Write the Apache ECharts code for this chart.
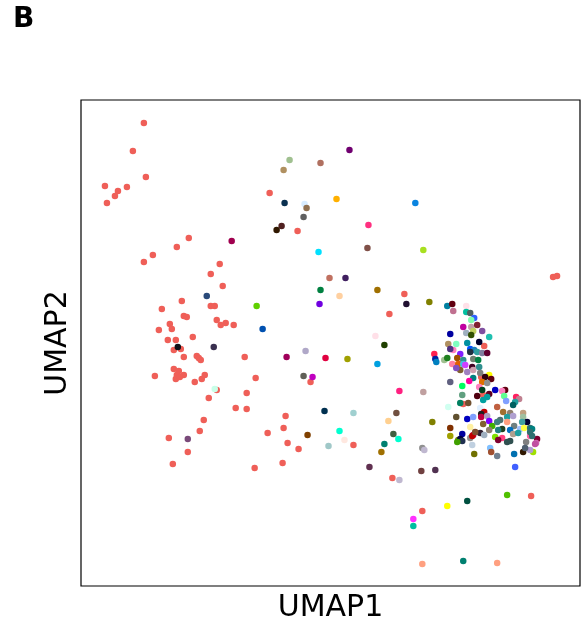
<!DOCTYPE html>
<html>
<head>
    <meta charset="UTF-8">
    <script src="https://cdn.jsdelivr.net/npm/echarts@6/dist/echarts.min.js"></script>
    <style type="text/css">
        html, body { margin: 0; padding: 0; background: #fff; }
        #chart { width: 583px; height: 634px; }
    </style>
</head>
<body>
    <div id="chart"></div>
    <script type="text/javascript">
        'use strict';
        // UMAP embedding (arbitrary units)
        var bigClusterPts = [
            [63,463],[52,435],[65,409],[24,400],[37,395],[34,390],[46,399],[26,383],
            [108,348],[96,339],[72,331],[63,324],[139,322],
            [130,312],[142,300],[101,285],[81,277],[130,280],[134,280],[103,270],[106,269],
            [89,262],[91,257],[78,256],[136,266],[145,263],[140,261],[153,261],
            [87,246],[95,246],[112,249],[93,236],[100,237],[103,229],[116,230],[118,228],[120,226],
            [164,229],[93,217],[98,215],[96,211],[103,211],[95,207],[99,209],[74,210],[124,211],
            [121,207],[114,204],[136,196],[128,188],[166,193],[155,178],[166,177],[123,166],
            [119,155],[88,148],[107,134],[92,122],
            [189,393],[217,355],[324,292],[309,272],[175,208],[230,204],[205,170],[203,158],
            [187,153],[207,143],[273,141],[218,137],[202,123],[174,118],[312,108],
            [451,90],[342,75],[473,309],[477,310],
            [404,240],[401,209],[403,191],[383,182]
        ];

        // every other cell type: position, then its own colour (same order)
        var otherPts = [
            [151,345],[126,290],[97,239],[133,239],[134,197],[107,147],[269,436],[209,426],
            [240,423],[203,416],[204,383],[224,382],[226,378],[256,387],[335,383],[223,369],
            [201,360],[196,356],[288,361],[238,334],[287,338],[343,336],[249,308],[265,308],
            [240,296],[259,290],[297,296],[176,280],[239,282],[326,282],[349,284],[182,257],
            [295,250],[304,241],[206,229],[225,235],[245,228],[267,227],[297,222],[223,210],
            [232,209],[319,195],[343,194],[244,175],[273,173],[316,173],[308,165],[227,151],
            [259,155],[313,152],[318,147],[264,146],[248,140],[304,142],[342,138],[344,136],
            [301,134],[289,119],[341,115],[319,106],[355,116],[352,164],[435,119],[427,91],
            [387,85],[367,80],[333,67],[333,60],[342,22],[383,25],[417,23],
            [367,280],[372,282],[373,275],[386,280],[386,274],[390,273],[394,268],[391,266],
            [383,259],[391,259],[397,261],[402,255],[386,253],[393,255],[391,251],[370,252],
            [409,249],[399,244],[387,243],[368,242],[376,242],[390,237],[394,236],[397,234],
            [402,233],[407,233],[373,236],[370,237],[380,232],[390,234],[354,232],[355,227],
            [356,224],[364,226],[367,228],[377,228],[383,226],[372,222],[378,222],[383,222],
            [385,221],[393,227],[398,226],[392,219],[380,216],[376,218],[387,214],[393,216],
            [399,219],[400,213],[409,211],[405,209],[411,207],[393,208],[389,205],[402,204],
            [407,203],[370,204],[382,200],[399,199],[415,196],[425,196],[422,195],[402,196],
            [382,191],[409,192],[407,189],[397,190],[424,190],[436,189],[439,187],[426,185],
            [435,184],[433,181],[403,186],[380,183],[388,183],[368,179],[400,178],[417,179],
            [404,174],[401,172],[423,174],[430,173],[443,173],[376,169],[387,167],[393,169],
            [401,169],[407,170],[420,166],[427,169],[433,170],[443,169],[447,164],[403,162],
            [409,165],[412,160],[417,164],[427,164],[434,160],[442,164],[440,157],[444,158],
            [450,158],[452,157],[422,157],[409,156],[418,156],[430,156],[400,153],[393,151],
            [382,152],[404,151],[433,152],[450,150],[457,147],[456,143],[446,144],[415,149],
            [422,148],[390,148],[378,146],[438,153],[427,144],[410,138],[392,141],
            [370,158],[370,150],[380,147],[382,145],[377,144],[390,159],[392,150],[395,154],
            [418,146],[430,145],[394,132],[411,134],[417,130],[434,132],[443,134],[453,134],
            [450,136],[445,138],[455,142],[452,150],[450,154]
        ];
        var otherColors = [
            '#a0004f','#2a4a7a','#101018','#3a3050','#c8ffe8','#7a4a7a','#700070','#a0c090',
            '#b07060','#b09060','#0a3050','#d8ecff','#907050','#ffb000','#0a84e0','#606060',
            '#502020','#301800','#ff3080','#00e0ff','#805048','#a8e020','#c07060','#402060',
            '#008040','#ffd0a0','#a07000','#60d000','#7000e0','#201030','#808000','#0050b0',
            '#ffe0e8','#204000','#a0005a','#b0a8c8','#e00040','#a0a000','#00a0e0','#606058',
            '#c000c0','#ff2080','#c0a0a0','#003050','#a0d0d0','#705040','#ffd090','#804000',
            '#00ffd0','#406040','#00ffd0','#ffe8e0','#a0c8c8','#008070','#909090','#c0b8d0',
            '#a07000','#603050','#704040','#c0b8d0','#503050','#808000','#4060ff','#50c000',
            '#005040','#ffff00','#ff30ff','#00c0a0','#ffa080','#008070','#ffa080',
            '#0080a0','#600010','#c07090','#ffe0e8','#00c0a0','#506060','#3060ff','#80ffb0',
            '#c000a0','#c0a0a8','#802030','#8050a0','#a0b0c0','#c0d060','#305000','#0000a0',
            '#20c0b0','#000030','#0090a0','#b09060','#80ffc0','#0050ff','#2080c0','#30a0a0',
            '#8080a0','#600030','#ff80c0','#503080','#8020ff','#203040','#ff2050','#0020a0',
            '#0080c0','#a0c090','#208020','#a05000','#309090','#ff80a0','#e06000','#40c0e0',
            '#d040ff','#708070','#008040','#400020','#806030','#8050c0','#a080c0','#d0a0b0',
            '#309090','#808080','#ffff00','#300010','#600010','#008080','#ff00a0','#e07000',
            '#909090','#606080','#00ff60','#ff80c0','#0000c0','#600010','#ff80c0','#004020',
            '#60a080','#600020','#00a0a0','#500010','#60ff90','#ff2060','#c08090','#80a0ff',
            '#20a0a0','#006060','#00a0a0','#008060','#705030','#d0fff0','#e0f0ff','#c06040',
            '#c00000','#202020','#a07030','#908070','#c0a080','#605030','#0000c0','#80a0ff',
            '#c00040','#b0a0c0','#507070','#20a0a0','#b0a0d0','#a0c0a0','#000030','#806030',
            '#8000ff','#40b000','#408080','#ffa080','#708080','#40a0a0','#a0c0ff','#ffff40',
            '#307070','#008080','#204020','#908070','#208080','#0070c0','#302030','#c00040',
            '#0000a0','#a0b0c0','#b0a090','#ff60a0','#800030','#d060b0','#808080','#80e000',
            '#ff4080','#909090','#808000','#20a0a0','#305050','#80c0ff','#c0d0e0',
            '#803000','#a0a000','#000040','#203050','#40a000','#fff0a0','#c00000','#805030',
            '#800030','#305050','#707000','#a05030','#708090','#0070b0','#301800','#a0e000',
            '#b0a0d0','#506070','#c050a0','#307070','#307070'
        ];

        var chart = echarts.init(document.getElementById('chart'));
        chart.setOption({
            animation: false,
            backgroundColor: '#fff',
            title: {
                text: 'B',
                left: 8,
                top: 1,
                textStyle: { fontFamily: 'DejaVu Sans', fontWeight: 'bold', fontSize: 28, color: '#000' }
            },
            grid: {
                left: 81, right: 3, top: 100, bottom: 48,
                show: true, borderColor: '#000', borderWidth: 1.2
            },
            xAxis: {
                type: 'value', min: 0, max: 500,
                name: 'UMAP1', nameLocation: 'middle', nameGap: 7,
                nameTextStyle: { fontFamily: 'DejaVu Sans', fontSize: 30, color: '#000' },
                axisLine: { show: false }, axisTick: { show: false },
                axisLabel: { show: false }, splitLine: { show: false }
            },
            yAxis: {
                type: 'value', min: 0, max: 486,
                name: 'UMAP2', nameLocation: 'middle', nameGap: 8,
                nameTextStyle: { fontFamily: 'DejaVu Sans', fontSize: 30, color: '#000' },
                axisLine: { show: false }, axisTick: { show: false },
                axisLabel: { show: false }, splitLine: { show: false }
            },
            series: [
                {
                    type: 'scatter',
                    data: bigClusterPts,
                    symbolSize: 6.5,
                    itemStyle: { color: '#ef5f58', opacity: 1 }
                },
                {
                    type: 'scatter',
                    data: otherPts,
                    symbolSize: 6.5,
                    itemStyle: {
                        opacity: 1,
                        color: function (p) { return otherColors[p.dataIndex]; }
                    }
                }
            ]
        });
    </script>
</body>
</html>
